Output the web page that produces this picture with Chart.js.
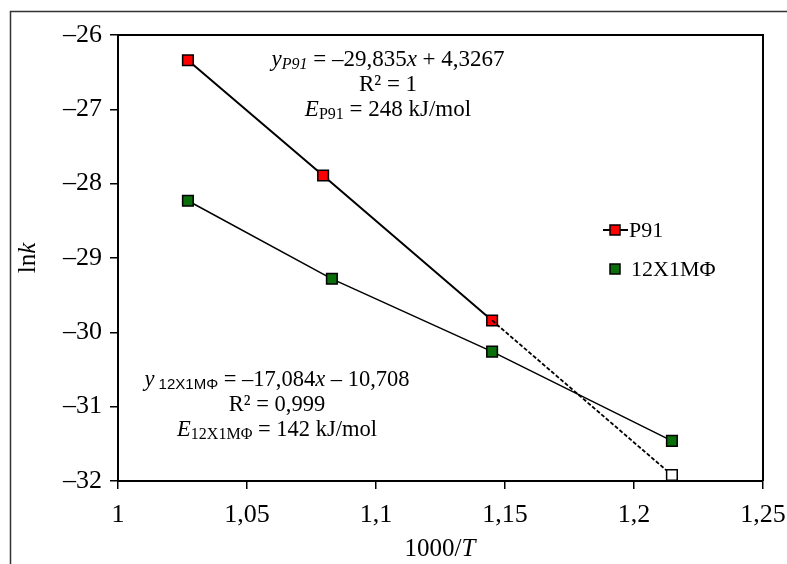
<!DOCTYPE html>
<html>
<head>
<meta charset="utf-8">
<script src="https://cdn.jsdelivr.net/npm/chart.js@4"></script>
<style>
  body { margin: 0; background: #fff; }
  canvas { display: block; }
</style>
</head>
<body>
<canvas id="arrhenius" width="787" height="564"></canvas>
<script>
// values: x = 1000/T, y = ln k
var invT_P91 = [1.0271, 1.0795, 1.145];
var lnk_P91 = [-26.34, -27.89, -29.84];
var invT_P91_ext = [1.145, 1.2147];
var lnk_P91_ext = [-29.84, -31.92];
var invT_12 = [1.0271, 1.0829, 1.145, 1.2147];
var lnk_12 = [-28.23, -29.28, -30.26, -31.46];

var seriesNames = ['P91', '12X1MΦ'];
var xRange = [1, 1.25, 0.05];
var yRange = [-32, -26, 1];

var SERIF = '"Liberation Serif", "Times New Roman", serif';
var SANS = '"Liberation Sans", Arial, sans-serif';
var RED = '#ff0000';
var GREEN = '#0a6e0a';

function pts(xs, ys) {
    var out = [];
    for (var i = 0; i < xs.length; i++) out.push({x: xs[i], y: ys[i]});
    return out;
}

// rich text: [text, kind] kind: n normal, i italic, si italic sub, sn sub, ss sans sub
var fitP91 = [
    [['y', 'i'], ['P91', 'si'], [' = –29,835', 'n'], ['x', 'i'], [' + 4,3267', 'n']],
    [['R² = 1', 'n']],
    [['E', 'i'], ['P91', 'sn'], [' = 248 kJ/mol', 'n']]
];
var fit12 = [
    [['y', 'i'], [' 12X1MΦ', 'ss'], [' = –17,084', 'n'], ['x', 'i'], [' – 10,708', 'n']],
    [['R² = 0,999', 'n']],
    [['E', 'i'], ['12X1MΦ', 'sn'], [' = 142 kJ/mol', 'n']]
];

function fontFor(kind, size) {
    var sub = Math.round(size * 0.7);
    if (kind === 'n') return size + 'px ' + SERIF;
    if (kind === 'i') return 'italic ' + size + 'px ' + SERIF;
    if (kind === 'si') return 'italic ' + sub + 'px ' + SERIF;
    if (kind === 'sn') return sub + 'px ' + SERIF;
    if (kind === 'ss') return (sub - 1) + 'px ' + SANS;
    return size + 'px ' + SERIF;
}

function drawRich(ctx, segs, cx, y, size) {
    var total = 0;
    segs.forEach(function (s) { ctx.font = fontFor(s[1], size); total += ctx.measureText(s[0]).width; });
    var x = cx - total / 2;
    segs.forEach(function (s) {
        ctx.font = fontFor(s[1], size);
        var dy = (s[1] === 'si' || s[1] === 'sn' || s[1] === 'ss') ? 5 : 0;
        ctx.fillText(s[0], x, y + dy);
        x += ctx.measureText(s[0]).width;
    });
}

function drawSquare(ctx, x, y, fill) {
    ctx.fillStyle = fill;
    ctx.fillRect(x - 5, y - 5, 10, 10);
    ctx.strokeStyle = '#000';
    ctx.lineWidth = 1.5;
    ctx.strokeRect(x - 5, y - 5, 10, 10);
}

var extras = {
    id: 'extras',
    afterDraw: function (chart) {
        var ctx = chart.ctx;
        var a = chart.chartArea;
        ctx.save();
        // outer frame
        ctx.strokeStyle = '#333';
        ctx.lineWidth = 1.5;
        ctx.strokeRect(10.5, 11.5, 900, 700);
        // top and right border of the plot
        ctx.strokeStyle = '#000';
        ctx.lineWidth = 2;
        ctx.beginPath();
        ctx.moveTo(a.left, a.top);
        ctx.lineTo(a.right, a.top);
        ctx.lineTo(a.right, a.bottom);
        ctx.stroke();

        ctx.fillStyle = '#000';
        ctx.textBaseline = 'middle';
        ctx.textAlign = 'left';
        fitP91.forEach(function (line, i) { drawRich(ctx, line, 388, 60 + i * 25, 23); });
        fit12.forEach(function (line, i) { drawRich(ctx, line, 277, 380 + i * 25, 22.5); });

        // axis titles
        drawRich(ctx, [['1000/', 'n'], ['T', 'i']], 440, 549, 25);
        ctx.save();
        ctx.translate(28, 258);
        ctx.rotate(-Math.PI / 2);
        drawRich(ctx, [['ln', 'n'], ['k', 'i']], 0, 0, 25);
        ctx.restore();

        // legend
        ctx.strokeStyle = '#000';
        ctx.lineWidth = 2;
        ctx.beginPath();
        ctx.moveTo(603, 230);
        ctx.lineTo(628, 230);
        ctx.stroke();
        drawSquare(ctx, 615, 230, RED);
        drawSquare(ctx, 615, 269, GREEN);
        ctx.fillStyle = '#000';
        ctx.font = '22px ' + SERIF;
        ctx.fillText(seriesNames[0], 629, 231);
        ctx.fillText(seriesNames[1], 631, 270);
        ctx.restore();
    }
};

var ctx = document.getElementById('arrhenius').getContext('2d');
new Chart(ctx, {
    type: 'scatter',
    data: {
        datasets: [{
            label: seriesNames[0] + ' ext',
            data: pts(invT_P91_ext, lnk_P91_ext),
            showLine: true,
            borderColor: '#000',
            borderWidth: 1.8,
            borderDash: [4, 2],
            pointStyle: 'rect',
            pointRadius: [0, 7.5],
            pointBackgroundColor: '#fff',
            pointBorderColor: '#000',
            pointBorderWidth: 1.5
        }, {
            label: seriesNames[1],
            data: pts(invT_12, lnk_12),
            showLine: true,
            borderColor: '#000',
            borderWidth: 1.5,
            pointStyle: 'rect',
            pointRadius: 7.5,
            pointBackgroundColor: GREEN,
            pointBorderColor: '#000',
            pointBorderWidth: 1.5
        }, {
            label: seriesNames[0],
            data: pts(invT_P91, lnk_P91),
            showLine: true,
            borderColor: '#000',
            borderWidth: 2,
            pointStyle: 'rect',
            pointRadius: 7.5,
            pointBackgroundColor: RED,
            pointBorderColor: '#000',
            pointBorderWidth: 1.5
        }]
    },
    options: {
        responsive: false,
        animation: false,
        layout: { padding: { left: 0, top: 35, right: 24, bottom: 0 } },
        plugins: { legend: { display: false }, tooltip: { enabled: false } },
        scales: {
            x: {
                type: 'linear',
                min: xRange[0], max: xRange[1],
                afterFit: function (s) { s.height = 83; s.paddingRight = 0; s.paddingLeft = 0; },
                ticks: {
                    stepSize: xRange[2],
                    color: '#000',
                    padding: 11,
                    maxRotation: 0,
                    font: { family: SERIF, size: 26 },
                    callback: function (v) { return String(Math.round(v * 100) / 100).replace('.', ','); }
                },
                grid: { drawOnChartArea: false, drawTicks: true, tickLength: 8, color: '#000', lineWidth: 1.5 },
                border: { display: true, color: '#000', width: 2 }
            },
            y: {
                type: 'linear',
                min: yRange[0], max: yRange[1],
                afterFit: function (s) { s.width = 118; s.paddingTop = 0; s.paddingBottom = 0; },
                ticks: {
                    stepSize: yRange[2],
                    color: '#000',
                    padding: 8,
                    font: { family: SERIF, size: 26 },
                    callback: function (v) { return (v < 0 ? '–' : '') + Math.abs(v); }
                },
                grid: { drawOnChartArea: false, drawTicks: true, tickLength: 8, color: '#000', lineWidth: 1.5 },
                border: { display: true, color: '#000', width: 2 }
            }
        }
    },
    plugins: [extras]
});
</script>
</body>
</html>
